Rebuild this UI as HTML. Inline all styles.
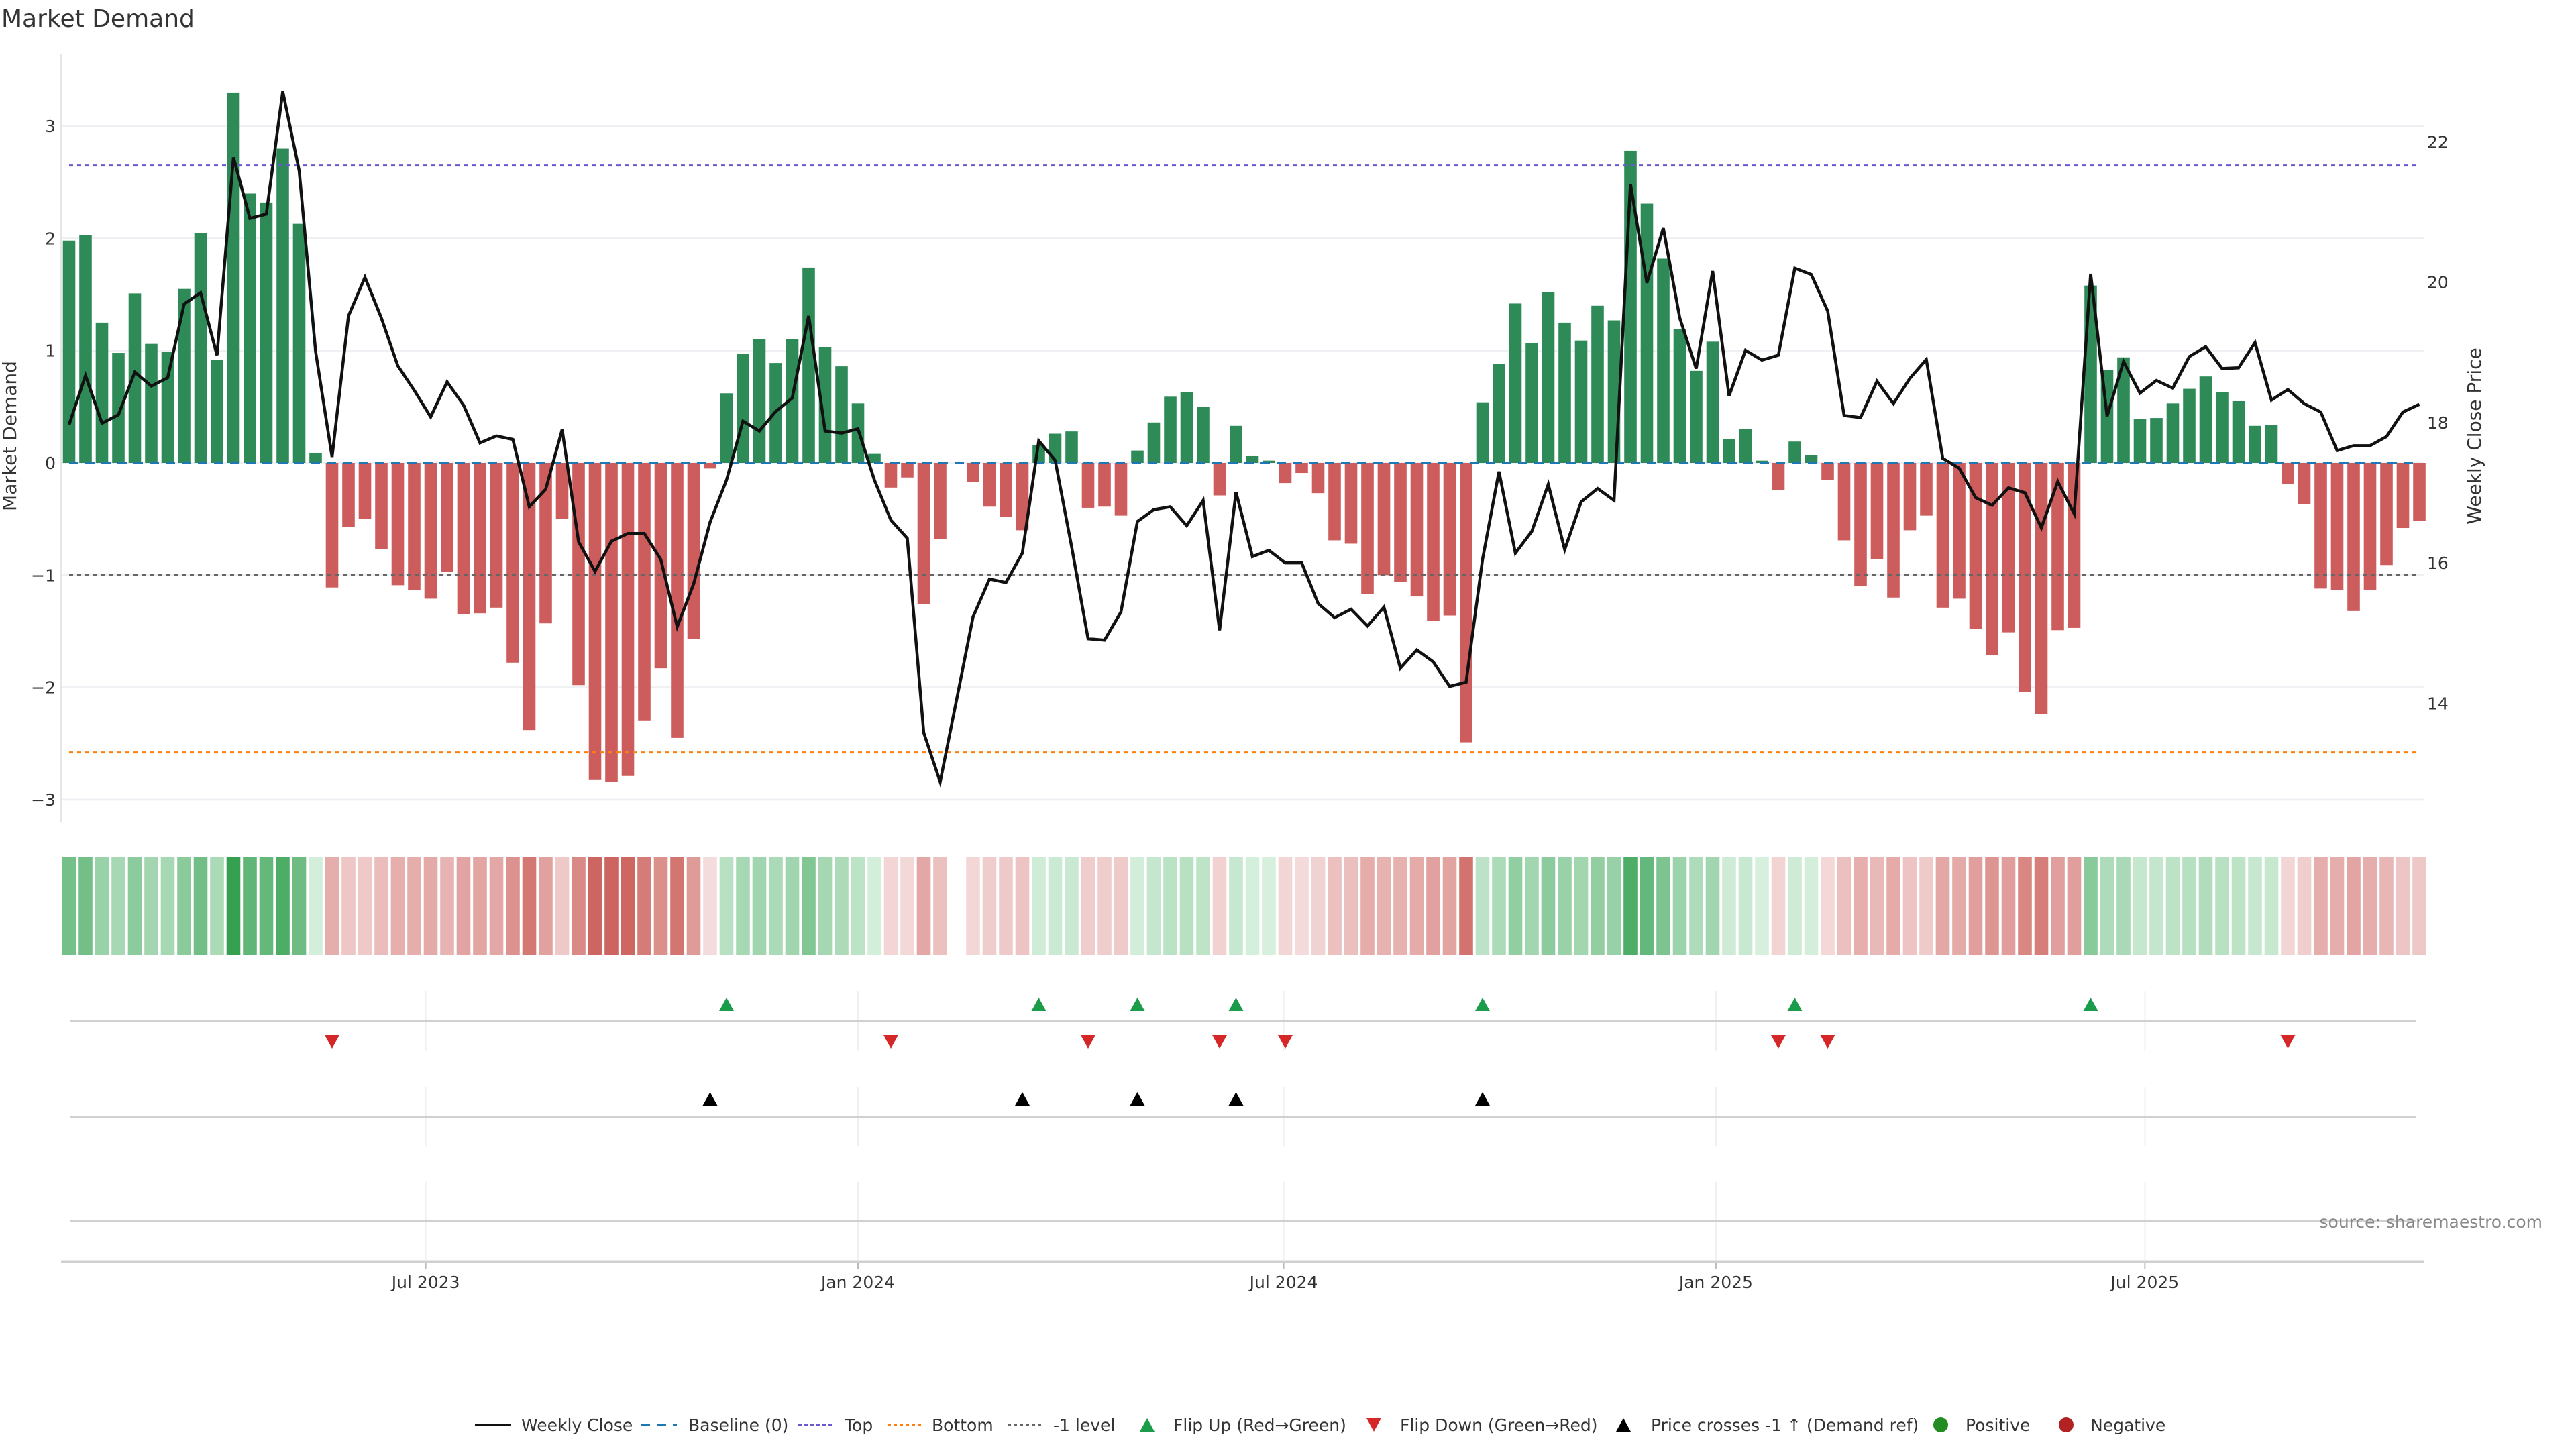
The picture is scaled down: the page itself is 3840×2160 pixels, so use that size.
<!DOCTYPE html>
<html><head><meta charset="utf-8"><title>Market Demand</title>
<style>
html,body{margin:0;padding:0;background:#fff;}
svg{display:block;font-family:"DejaVu Sans","Liberation Sans",sans-serif;}
</style></head>
<body>
<svg id="chart" xmlns="http://www.w3.org/2000/svg" width="3840" height="2160" viewBox="0 0 3840 2160">
<rect x="0" y="0" width="3840" height="2160" fill="#fff"/>
<text x="2" y="40" font-size="36" fill="#333">Market Demand</text>
<g id="grid"></g>
<g id="bars"></g>
<g id="refs"></g>
<g id="line"></g>
<g id="heat"></g>
<g id="rows"></g>
<g id="xaxis"></g>
<g id="axes"></g>
<text transform="translate(24,650) rotate(-90)" text-anchor="middle" font-size="28" fill="#333">Market Demand</text>
<text transform="translate(3698,650) rotate(-90)" text-anchor="middle" font-size="28" fill="#333">Weekly Close Price</text>
<text x="3790" y="1830" text-anchor="end" font-size="25" fill="#888">source: sharemaestro.com</text>
<g id="legend"></g>
</svg>
<script>
const demand = [1.98,2.03,1.25,0.98,1.51,1.06,0.99,1.55,2.05,0.92,3.3,2.4,2.32,2.8,2.13,0.09,
-1.11,-0.57,-0.5,-0.77,-1.09,-1.13,-1.21,-0.97,-1.35,-1.34,-1.29,-1.78,-2.38,-1.43,-0.5,-1.98,-2.82,-2.84,-2.79,-2.3,-1.83,-2.45,-1.57,-0.05,
0.62,0.97,1.1,0.89,1.1,1.74,1.03,0.86,0.53,0.08,
-0.22,-0.13,-1.26,-0.68,0,-0.17,-0.39,-0.48,-0.6,
0.16,0.26,0.28,
-0.4,-0.39,-0.47,
0.11,0.36,0.59,0.63,0.5,
-0.29,
0.33,0.06,0.02,
-0.18,-0.09,-0.27,-0.69,-0.72,-1.17,-1.0,-1.06,-1.19,-1.41,-1.36,-2.49,
0.54,0.88,1.42,1.07,1.52,1.25,1.09,1.4,1.27,2.78,2.31,1.82,1.19,0.82,1.08,0.21,0.3,0.02,
-0.24,
0.19,0.07,
-0.15,-0.69,-1.1,-0.86,-1.2,-0.6,-0.47,-1.29,-1.21,-1.48,-1.71,-1.51,-2.04,-2.24,-1.49,-1.47,
1.58,0.83,0.94,0.39,0.4,0.53,0.66,0.77,0.63,0.55,0.33,0.34,
-0.19,-0.37,-1.12,-1.13,-1.32,-1.13,-0.91,-0.58,-0.52];
const price = [17.97,18.67,17.99,18.11,18.72,18.52,18.64,19.69,19.85,18.96,21.78,20.91,20.97,22.72,21.59,19.01,17.51,19.52,20.07,19.49,18.81,18.46,18.08,18.58,18.25,17.71,17.81,17.76,16.8,17.05,17.9,16.3,15.88,16.31,16.42,16.42,16.05,15.09,15.7,
16.58,17.18,18.02,17.88,18.16,18.35,19.52,17.88,17.85,17.91,17.18,16.61,16.35,13.58,12.88,14.05,15.23,15.77,15.72,16.14,17.74,17.46,16.23,14.92,14.9,15.3,16.59,16.76,16.8,16.53,16.89,15.04,17.01,16.09,16.18,16.0,16.0,15.42,15.22,
15.34,15.1,15.37,14.5,14.76,14.59,14.24,14.3,16.05,17.3,16.14,16.45,17.12,16.19,16.87,17.06,16.89,21.4,19.99,20.77,19.49,18.77,20.16,18.38,19.03,18.89,18.96,20.2,20.11,19.59,18.1,18.07,18.59,18.27,18.63,18.9,17.49,17.35,16.93,
16.82,17.07,17.0,16.5,17.16,16.7,20.12,18.09,18.87,18.42,18.6,18.49,18.94,19.08,18.77,18.78,19.14,18.32,18.47,18.27,18.15,17.6,17.67,17.67,17.8,18.15,18.26];
const crossIdx = [39,58,65,71,86];
const demandTicks = [-3,-2,-1,0,1,2,3];
const priceTicks = [14,16,18,20,22];
const refLevels = [2.65,-2.58,-1];
const dateTickLabels = ["Jul 2023","Jan 2024","Jul 2024","Jan 2025","Jul 2025"];
const dateTickWeeks = [21.7,48.0,73.9,100.2,126.3];

const NS = "http://www.w3.org/2000/svg";
function mk(tag, attrs, parent){const e=document.createElementNS(NS,tag);for(const k in attrs)e.setAttribute(k,attrs[k]);parent.appendChild(e);return e;}
const X = i => 103 + 24.5*i;
const Yd = v => 690 - 167.3*v;
const Yp = p => 211.5 + (22-p)*104.6;
const PL = 91, PR = 3613;

const grid = document.getElementById('grid');
const axes = document.getElementById('axes');
demandTicks.forEach(t=>{
  const l = mk('line',{x1:PL,x2:PR,y1:Yd(t),y2:Yd(t),stroke:'#eef0f3','stroke-width':3},grid);
  
  
  const tx = mk('text',{x:83,y:Yd(t)+9,'text-anchor':'end','font-size':25,fill:'#333'},axes);
  
  
  tx.textContent = t<0 ? '\u2212'+Math.abs(t) : String(t);
});
priceTicks.forEach(t=>{
  const tx = mk('text',{x:3618,y:Yp(t)+9,'font-size':25,fill:'#333'},axes);
  
  
  tx.textContent = String(t);
});
const la = mk('line',{x1:PL,x2:PL,y1:80,y2:1225,stroke:'#e6e6e6','stroke-width':2},axes);



// bars
const bars = document.getElementById('bars');
demand.forEach((v,i)=>{
  if(v===0) return;
  const y0=Yd(0), y1=Yd(v);
  const r = mk('rect',{x:X(i)-9.3,y:Math.min(y0,y1),width:18.6,height:Math.abs(y1-y0),fill:v>0?'#2e8b57':'#cd5c5c'},bars);
  
  
});

// reference lines
const refs = document.getElementById('refs');
const bl = mk('line',{x1:103,x2:3603,y1:Yd(0),y2:Yd(0),stroke:'#1f77b4','stroke-width':3,'stroke-dasharray':'14 10'},refs);


const refColors = ['#6a5acd','#ff7f0e','#666'];
const refNames = ['top-level-line','bottom-level-line','minus-one-level-line'];
refLevels.forEach((v,k)=>{
  const l = mk('line',{x1:103,x2:3603,y1:Yd(v),y2:Yd(v),stroke:refColors[k],'stroke-width':3,'stroke-dasharray':'6 6'},refs);
  
  
});

// price line
const lineG = document.getElementById('line');
const pts = price.map((p,i)=>X(i).toFixed(1)+','+Yp(p).toFixed(1)).join(' ');
const pl = mk('polyline',{points:pts,fill:'none',stroke:'#111','stroke-width':4.5,'stroke-linejoin':'miter'},lineG);



// heat strip
const heat = document.getElementById('heat');
function lerp(a,b,t){return Math.round(a+(b-a)*t);}
demand.forEach((v,i)=>{
  if(v===0) return;
  let c;
  if(v>0){const t=Math.min(v/3.3,1);c=`rgb(${lerp(215,52,t)},${lerp(240,160,t)},${lerp(222,80,t)})`;}
  else {const t=Math.min(-v/2.85,1);c=`rgb(${lerp(245,205,t)},${lerp(222,100,t)},${lerp(222,95,t)})`;}
  const r = mk('rect',{x:X(i)-10.3,y:1278,width:20.6,height:146,fill:c},heat);
  
  
});

// x-axis and row panels
const xax = document.getElementById('xaxis');
const rows = document.getElementById('rows');
dateTickWeeks.forEach((w,k)=>{
  const x = X(w);
  [[1478,1566],[1620,1708],[1762,1879]].forEach(seg=>{
    const g = mk('line',{x1:x,x2:x,y1:seg[0],y2:seg[1],stroke:'#eef0f3','stroke-width':2},rows);
    
    
  });
  const tk = mk('line',{x1:x,x2:x,y1:1881,y2:1892,stroke:'#bbb','stroke-width':2},xax);
  
  
  const t = mk('text',{x:x,y:1920,'text-anchor':'middle','font-size':25,fill:'#333'},xax);
  
  
  t.textContent = dateTickLabels[k];
});
[1522,1665,1820].forEach(y=>{
  const l = mk('line',{x1:104,x2:3602,y1:y,y2:y,stroke:'#d0d0d0','stroke-width':3},rows);
  
  
});
const xl = mk('line',{x1:PL,x2:PR,y1:1881,y2:1881,stroke:'#d0d0d0','stroke-width':3},xax);



function tri(x,y,up,fill,name){
  const w=11,h=10;
  const p = up ? `${x-w},${y+h} ${x+w},${y+h} ${x},${y-h}` : `${x-w},${y-h} ${x+w},${y-h} ${x},${y+h}`;
  const t = mk('polygon',{points:p,fill:fill},rows);
  
  
}
let prev = Math.sign(demand[0]);
for(let i=1;i<demand.length;i++){
  const s = Math.sign(demand[i]);
  if(s===0) continue;
  if(s!==prev){
    if(s>0) tri(X(i),1497,true,'#1a9c4a','flip-up-marker');
    else tri(X(i),1553,false,'#d62728','flip-down-marker');
  }
  prev = s;
}
crossIdx.forEach(i=>tri(X(i),1638,true,'#000','price-cross-marker'));

// legend
const lg = document.getElementById('legend');
const LY = 2124;
function ltext(x,s){const t=mk('text',{x:x,y:LY+9,'font-size':25,fill:'#333'},lg);t.textContent=s;}
function lline(x,c,dash,name){const l=mk('line',{x1:x,x2:x+54,y1:LY,y2:LY,stroke:c,'stroke-width':4,'stroke-dasharray':dash},lg);}
lline(708,'#111','none','legend-weekly-close'); ltext(777,'Weekly Close');
lline(955,'#1f77b4','14 10','legend-baseline'); ltext(1026,'Baseline (0)');
lline(1190,'#6a5acd','5 4','legend-top'); ltext(1259,'Top');
lline(1323,'#ff7f0e','5 4','legend-bottom'); ltext(1389,'Bottom');
lline(1502,'#666','5 4','legend-minus-one'); ltext(1570,'-1 level');
function ltri(x,up,c,name){const w=11,h=10;const p=up?`${x-w},${LY+h} ${x+w},${LY+h} ${x},${LY-h}`:`${x-w},${LY-h} ${x+w},${LY-h} ${x},${LY+h}`;const t=mk('polygon',{points:p,fill:c},lg);}
ltri(1710,true,'#1a9c4a','legend-flip-up'); ltext(1749,'Flip Up (Red\u2192Green)');
ltri(2048,false,'#d62728','legend-flip-down'); ltext(2087,'Flip Down (Green\u2192Red)');
ltri(2420,true,'#000','legend-price-cross'); ltext(2461,'Price crosses -1 \u2191 (Demand ref)');
const c1=mk('circle',{cx:2893,cy:LY,r:11,fill:'#228b22'},lg);


ltext(2930,'Positive');
const c2=mk('circle',{cx:3080,cy:LY,r:11,fill:'#b22222'},lg);


ltext(3116,'Negative');
</script>
</body></html>
